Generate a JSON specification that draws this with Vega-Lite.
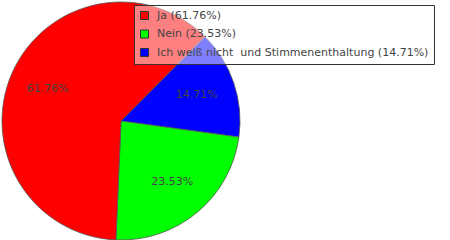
{
  "$schema": "https://vega.github.io/schema/vega-lite/v6.json",
  "width": 240,
  "height": 240,
  "padding": 0,
  "background": "white",
  "config": {"view": {"stroke": null}, "font": "DejaVu Sans"},
  "data": {"values": [
    {"label": "Ich weiß nicht \u00a0und Stimmenenthaltung (14.71%)", "pct": "14.71%", "value": 14.71, "ord": 1},
    {"label": "Nein (23.53%)", "pct": "23.53%", "value": 23.53, "ord": 2},
    {"label": "Ja (61.76%)", "pct": "61.76%", "value": 61.76, "ord": 3}
  ]},
  "encoding": {
    "theta": {"field": "value", "type": "quantitative", "stack": true, "scale": {"range": [0.782, 7.065]}},
    "order": {"field": "ord", "type": "quantitative"}
  },
  "layer": [
    {
      "mark": {"type": "arc", "outerRadius": 119, "stroke": "#555", "strokeWidth": 0.8},
      "encoding": {
        "color": {
          "field": "label", "type": "nominal",
          "scale": {"domain": ["Ja (61.76%)", "Nein (23.53%)", "Ich weiß nicht \u00a0und Stimmenenthaltung (14.71%)"], "range": ["#ff0000", "#00ff00", "#0000ff"]},
          "legend": {
            "title": null, "orient": "none", "legendX": 133, "legendY": 4,
            "fillColor": "rgba(255,255,255,0.5)", "strokeColor": "#333", "padding": 5,
            "symbolType": "square", "symbolSize": 64, "symbolStrokeColor": "#333", "symbolStrokeWidth": 1,
            "labelFont": "DejaVu Sans", "labelFontSize": 11, "labelColor": "#444", "labelLimit": 400,
            "rowPadding": 5.5, "labelOffset": 7
          }
        }
      }
    },
    {
      "mark": {"type": "text", "radius": 80, "font": "DejaVu Sans", "fontSize": 11, "color": "#444"},
      "encoding": {"text": {"field": "pct", "type": "nominal"}}
    }
  ]
}
